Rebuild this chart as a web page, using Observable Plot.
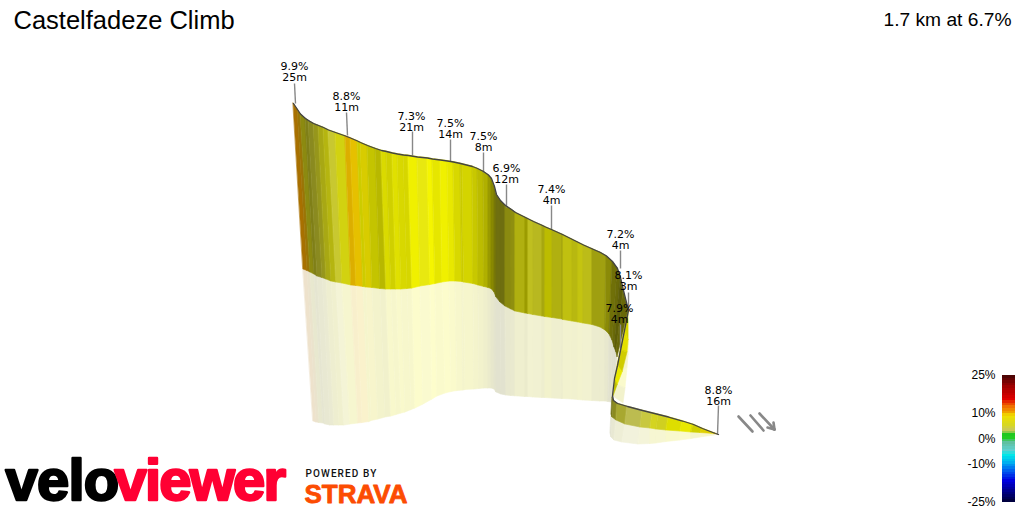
<!DOCTYPE html>
<html>
<head>
<meta charset="utf-8">
<script src="https://cdn.jsdelivr.net/npm/d3@7"></script>
<script src="https://cdn.jsdelivr.net/npm/@observablehq/plot@0.6"></script>
<style>html,body{margin:0;padding:0;background:#fff}svg{display:block}</style>
</head>
<body>
<div id="chart"></div>
<script>
const mainTopX=[293,297,300,305,308,313,318,323,328,335,345,350,357,360,367,375,381,386,392,397,403,408,417,427,432,440,447,453,460,462,472,477,483,488,491,494,496,500,505,511,515,525,528,533,542,545,552,562,563,572,578,583,592,600,606,612,617,620,623,628];
const mainTopY=[103,109,113.5,118,120,123,125,127,129.5,132,135.5,137.5,140.5,142,145,148,150,151,152.5,153.5,154.5,155,156.5,157.5,158.5,159.5,160.5,161.5,163,163.5,166,168,171,174.5,178,186,194,200,205,209,212,217,218.5,221,225,226.5,229.5,234,234.5,239,242,244.5,248.5,252,255.5,261,268,277,290,310];
const mainMidX=[303,307,310,314,317,322,326,331,336,342,351,356,363,366,372,380,386,391,396,401,407,412,420,430,435,442,449,455,462,463.5,473,478,484,488,491,494,496,500,505,511,515,525,528,533,542,545,552,562,563,572,578,583,592,600,605,609,612,614,616,617];
const mainMidY=[269,270.5,272,274,276,277.5,279,281,282,283,285,285.5,286.5,287,287.5,288.5,289,289,289,289,288.5,288,286,284.5,283.5,282,281,281,281.5,282,283.5,285,286.5,287.5,288.5,292,297,302,306,309,311,313,313.5,314.5,316,316.5,317.5,319,319.5,321,322,323,324.5,327,330,334,340,347,352,357];
const mainBotX=[313,316,319,323,325,330,334,339,344,350,358,362,369,371,378,385,391,396,401,405,411,415,423,432,437,445,451,457,463,465,474,479,484,488,491,494,496,501,506,511,515,525,528,533,542,545,552,562,563,572,578,583,592,600,605,608,611,612,612,612];
const mainBotY=[421,422,422.5,423,424,425,425,425,425,424,423,422.5,421.5,420.5,419,417,416,414.5,413,412,409.5,408,404,399,396,393,391.5,390.5,390,389.5,389,388.5,388,388,388,389,392,394,395,395.5,395.8,396.5,396.5,397,397.5,397.5,398,398.5,398.5,399,399.5,400,400.5,401,401,401.5,402,402,400,397];
const mainColors=["#a87000","#9c7406","#8c8a10","#7f7f18","#8a8a20","#96961c","#a8a814","#b5b510","#c8c830","#d2d210","#dcae00","#e6c000","#cccc00","#d8cc00","#c4c400","#b8b800","#dada00","#d0d000","#e0e000","#d8d800","#d6d600","#f0f000","#e8e810","#f5f500","#e6e600","#f0f000","#e8e800","#d8d800","#c8c800","#d4d400","#c8c800","#bcbc00","#b0b000","#9a9a00","#888800","#787808","#6f6f10","#6e6e10","#8a8a10","#8f8f10","#b0b010","#9c9c00","#bfbf20","#b8b820","#a8a810","#bcbc00","#b0b010","#a0a010","#c0c010","#b8b810","#c4c410","#bcbc18","#9f9f10","#a0a010","#8a8a08","#707008","#6a6a08","#5e5e08","#686808"];

const sliverTopX=[628,624,620,617,614,612];
const sliverTopY=[310,330,350,365,378,395];
const sliverMidX=[628,628,627,622,617,613];
const sliverMidY=[321,340,352,372,385,396];
const sliverBotX=[628,628.5,628,627,625,623];
const sliverBotY=[325,345,355,368,388,403];
const sliverColors=["#d8d800","#e4e000","#d0cc00","#e8e800","#c0c000"];

const lowTopX=[612,613,617,627,642,652,658,668,682,693,702,715,718];
const lowTopY=[397,400,403,406,410,412.5,414,416.5,420.5,424,428,433,434];
const lowMidX=[611,612,616,625,640,650,656,666,680,691,700,714,718];
const lowMidY=[414,417,420,424,427,428,429,430,431,432,432.5,433.5,434];
const lowBotX=[610,611,614,622,638,650,656,666,680,691,700,714,718];
const lowBotY=[433,437,440,442,444,443.5,443,441.5,440,438.5,437,435,434];
const lowColors=["#6a6a10","#8a8a20","#a8a830","#bcbc50","#c8c840","#d4d420","#d0d020","#dede00","#e8e800","#cfcf00","#e0d000","#d8b800"];

const labelText=["9.9%\n25m","8.8%\n11m","7.3%\n21m","7.5%\n14m","7.5%\n8m","6.9%\n12m","7.4%\n4m","7.2%\n4m","8.1%\n3m","7.9%\n4m","8.8%\n16m"];
const labelX=[294,346,411,450,483,506,551,620,628,619,718];
const labelY=[71.5,101.5,121.5,128.5,141.5,173.5,194.5,239.5,280.5,313.5,395.5];
const leaderX1=[294,346,412,450,483,506,551,620,628,620,718];
const leaderY1=[83,112,131,139,152,184,205,250,292,324,405];
const leaderX2=[295,347,412,450,483,506,551,620,628,620,717];
const leaderY2=[103,135,155,161,172,207,229,268,310,348,434];

const compassStrokes=[[[738,752],[416,431]],[[750,763],[415,430]],[[759,774],[413,429]],[[774,767],[429,427]],[[774,773],[429,422]]];

const rampGrades=[25,20,15,12,10,8.6,5,2.5,1,0,-2,-5,-7,-10,-13,-17,-21,-25];
const rampColors=["#3a0505","#a00000","#e00000","#f07000","#f0a000","#f0e000","#d8d820","#c8c860","#20c820","#22cc22","#60c0a0","#60d0d0","#00e8e8","#00b0f0","#0060f0","#0000e0","#000090","#000040"];
const rampBands=d3.range(-25,25,1);
const rampTickValues=[25,10,0,-10,-25];
const rampTickText=["25%","10%","0%","-10%","-25%"];

const titleText="Castelfadeze Climb";
const summaryText="1.7 km at 6.7%";

function strips(ax,ay,bx,by,colors,prefix,mix){
  const rows=[];
  colors.forEach((c,i)=>{
    const fill=mix?d3.interpolateRgb(c,"#ffffff")(0.8):c;
    [i,i+1].forEach(k=>rows.push({x1:ax[k],y1:ay[k],x2:bx[k],y2:by[k],z:prefix+i,fill}));
  });
  return rows;
}
const wall=(rows)=>Plot.area(rows,{x1:"x1",y1:"y1",x2:"x2",y2:"y2",z:"z",fill:"fill",stroke:"fill",strokeWidth:0.6,curve:"linear"});

const profile=[];
mainTopX.forEach((x,i)=>profile.push({x,y:mainTopY[i]}));
sliverTopX.slice(1).forEach((x,i)=>profile.push({x,y:sliverTopY[i+1]}));
lowTopX.slice(1).forEach((x,i)=>profile.push({x,y:lowTopY[i+1]}));

const labels=labelText.map((t,i)=>({t,x:labelX[i],y:labelY[i],x1:leaderX1[i],y1:leaderY1[i],x2:leaderX2[i],y2:leaderY2[i]}));
const compass=compassStrokes.flatMap(([xs,ys],k)=>xs.map((x,i)=>({x,y:ys[i],k})));

// colour-bar grade axis, in page y units
const barY=d3.scaleLinear([25,-25],[375,502]);
const bands=rampBands.map(g=>({g,y1:barY(g+1),y2:barY(g)}));
const barTicks=rampTickValues.map((v,i)=>({t:rampTickText[i],y:barY(v)}));

const sans="'Liberation Sans',Arial,sans-serif";
const svg=Plot.plot({
  width:1024,height:512,margin:0,
  style:{background:"#fff"},
  x:{domain:[0,1024],range:[0,1024],axis:null},
  y:{domain:[512,0],range:[512,0],axis:null},
  color:{type:"linear",domain:rampGrades.slice().reverse(),range:rampColors.slice().reverse(),interpolate:"rgb"},
  marks:[
    wall(strips(sliverMidX,sliverMidY,sliverBotX,sliverBotY,sliverColors,"sp",true)),
    wall(strips(sliverTopX,sliverTopY,sliverMidX,sliverMidY,sliverColors,"st",false)),
    wall(strips(mainMidX,mainMidY,mainBotX,mainBotY,mainColors,"mp",true)),
    wall(strips(mainTopX,mainTopY,mainMidX,mainMidY,mainColors,"mt",false)),
    wall(strips(lowMidX,lowMidY,lowBotX,lowBotY,lowColors,"lp",true)),
    wall(strips(lowTopX,lowTopY,lowMidX,lowMidY,lowColors,"lt",false)),
    Plot.link(labels,{x1:"x1",y1:"y1",x2:"x2",y2:"y2",stroke:"#888",strokeWidth:1.4}),
    Plot.line(profile,{x:"x",y:"y",stroke:"#444",strokeWidth:1.3,curve:"linear"}),
    Plot.text(labels,{x:"x",y:"y",text:"t",fontFamily:"'DejaVu Sans',Verdana,sans-serif",fontSize:11,lineHeight:1,fill:"#000"}),
    Plot.line(compass,{x:"x",y:"y",z:"k",stroke:"#888",strokeWidth:2.6,curve:"linear"}),
    Plot.rect(bands,{x1:()=>1002,x2:()=>1015,y1:"y1",y2:"y2",fill:"g",shapeRendering:"crispEdges"}),
    Plot.text(barTicks,{x:()=>995,y:"y",text:"t",textAnchor:"end",fontFamily:sans,fontSize:12,fill:"#000"}),
    Plot.text([titleText],{x:()=>13,y:()=>20,text:d=>d,textAnchor:"start",fontFamily:sans,fontSize:25.5,fill:"#000"}),
    Plot.text([summaryText],{x:()=>1011,y:()=>19,text:d=>d,textAnchor:"end",fontFamily:sans,fontSize:19.2,fill:"#000"}),
    Plot.text(["velo"],{x:()=>5,y:()=>481,text:d=>d,textAnchor:"start",fontFamily:sans,fontSize:58,fontWeight:700,fill:"#000",stroke:"#000",strokeWidth:2.4}),
    Plot.text(["viewer"],{x:()=>114,y:()=>481,text:d=>d,textAnchor:"start",fontFamily:sans,fontSize:58,fontWeight:700,fill:"#ff0033",stroke:"#ff0033",strokeWidth:2.4}),
    Plot.text(["POWERED BY"],{x:()=>305,y:()=>473.5,text:d=>d,textAnchor:"start",fontFamily:"Roboto,"+sans,fontSize:10,fontWeight:500,fill:"#111"}),
    Plot.text(["STRAVA"],{x:()=>304,y:()=>494,text:d=>d,textAnchor:"start",fontFamily:sans,fontSize:26,fontWeight:700,fill:"#fc4c02",stroke:"#fc4c02",strokeWidth:0.8})
  ]
});
svg.querySelectorAll("text").forEach(n=>{
  const t=n.textContent;
  if(t==="velo") n.style.letterSpacing="-0.8px";
  if(t==="viewer") n.style.letterSpacing="-1.8px";
  if(t==="POWERED BY") n.style.letterSpacing="1.1px";
});
document.getElementById("chart").append(svg);
</script>
</body>
</html>
